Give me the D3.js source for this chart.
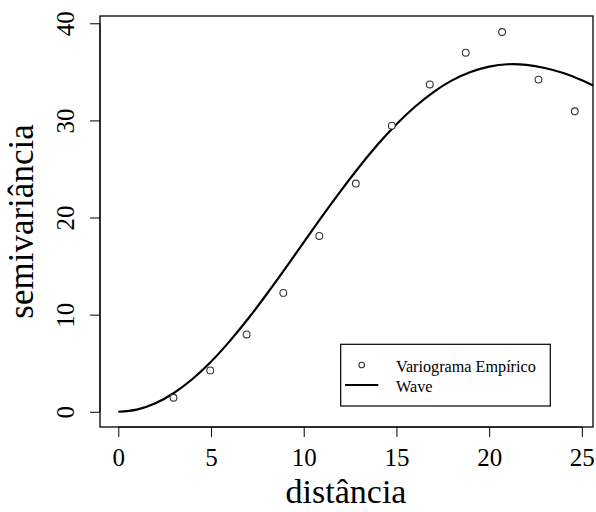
<!DOCTYPE html>
<html><head><meta charset="utf-8">
<script src="https://cdn.jsdelivr.net/npm/d3@7"></script>
<style>body{margin:0;background:#fff}svg{display:block}</style>
</head><body>
<svg id="c" width="596" height="512" font-family="Liberation Serif, Times New Roman, serif"></svg>
<script>
// Empirical variogram points
const empDist = [2.98, 4.96, 6.92, 8.9, 10.84, 12.81, 14.75, 16.8, 18.74, 20.7, 22.66, 24.62];
const empGamma = [1.44, 4.26, 7.96, 12.24, 18.1, 23.5, 29.46, 33.7, 36.97, 39.1, 34.2, 30.94];
// Fitted wave model curve
const waveDist = [0, 1, 2, 3, 4, 5, 6, 7, 8, 9, 10, 11, 12, 13, 14, 15, 16, 17, 18, 19, 20, 21, 22, 23, 24, 25, 26];
const waveGamma = [0, 0.22, 0.87, 1.93, 3.37, 5.15, 7.25, 9.58, 12.1, 14.74, 17.44, 20.14, 22.75, 25.23, 27.54, 29.61, 31.41, 32.92, 34.12, 34.98, 35.53, 35.78, 35.72, 35.4, 34.88, 34.14, 33.24];
const xTicks = [0, 5, 10, 15, 20, 25];
const yTicks = [0, 10, 20, 30, 40];
const legendLabels = ["Variograma Empírico", "Wave"];

const FF = "Liberation Serif, Times New Roman, serif";
const svg = d3.select("#c");
const L = 100, R = 593, T = 16, B = 427;
const x = d3.scaleLinear().domain([-0.985, 25.6]).range([L, R]);
const y = d3.scaleLinear().domain([-1.57, 40.75]).range([B, T]);

svg.append("defs").append("clipPath").attr("id", "clip")
  .append("rect").attr("x", L).attr("y", T).attr("width", R - L).attr("height", B - T);

// axes
const xAxis = svg.append("g").attr("transform", `translate(0,${B})`)
  .call(d3.axisBottom(x).tickValues(xTicks).tickSize(10).tickPadding(10).tickFormat(d3.format("d")));
xAxis.attr("font-family", FF);
xAxis.select(".domain").attr("d", `M${x(0)},0H${x(25)}`).attr("stroke", "#000");
xAxis.selectAll("line").attr("stroke", "#000");
xAxis.selectAll("text").attr("font-size", 25).attr("font-family", FF).attr("fill", "#000")
  .attr("y", 39).attr("dy", null);

const yAxis = svg.append("g").attr("transform", `translate(${L},0)`)
  .call(d3.axisLeft(y).tickValues(yTicks).tickSize(10).tickFormat(d3.format("d")));
yAxis.attr("font-family", FF);
yAxis.select(".domain").attr("d", `M0,${y(0)}V${y(40)}`).attr("stroke", "#000");
yAxis.selectAll("line").attr("stroke", "#000");
yAxis.selectAll(".tick text")
  .attr("font-size", 25).attr("font-family", FF).attr("fill", "#000")
  .attr("x", null).attr("dy", null).attr("y", null)
  .attr("text-anchor", "middle")
  .attr("transform", "translate(-26,0) rotate(-90)");

// box
svg.append("rect").attr("x", L).attr("y", T).attr("width", R - L).attr("height", B - T)
  .attr("fill", "none").attr("stroke", "#000").attr("stroke-width", 1.3);

// curve
const pts = waveDist.map((d, i) => [d, waveGamma[i]]);
svg.append("path").attr("clip-path", "url(#clip)")
  .attr("d", d3.line().x(d => x(d[0])).y(d => y(d[1])).curve(d3.curveNatural)(pts))
  .attr("fill", "none").attr("stroke", "#000").attr("stroke-width", 2.2);

// points
svg.append("g").selectAll("circle").data(empDist).join("circle")
  .attr("cx", d => x(d)).attr("cy", (d, i) => y(empGamma[i])).attr("r", 3.4)
  .attr("fill", "#fff").attr("stroke", "#333").attr("stroke-width", 1.1);

// axis titles
svg.append("text").attr("x", (L + R) / 2 - 0.5).attr("y", 503).attr("text-anchor", "middle")
  .attr("font-family", FF).attr("font-size", 34).attr("fill", "#000").text("distância");
svg.append("text").attr("transform", `translate(33,${(T + B) / 2}) rotate(-90)`)
  .attr("text-anchor", "middle").attr("font-family", FF).attr("font-size", 35).attr("fill", "#000").text("semivariância");

// legend
const lg = svg.append("g");
lg.append("rect").attr("x", 340.7).attr("y", 344.3).attr("width", 209.6).attr("height", 61.7)
  .attr("fill", "#fff").attr("stroke", "#000").attr("stroke-width", 1.2);
lg.append("circle").attr("cx", 361.7).attr("cy", 365).attr("r", 2.8)
  .attr("fill", "#fff").attr("stroke", "#333").attr("stroke-width", 1.1);
lg.append("line").attr("x1", 345).attr("x2", 378.3).attr("y1", 385).attr("y2", 385)
  .attr("stroke", "#000").attr("stroke-width", 2.2);
lg.selectAll("text.l").data(legendLabels).join("text").attr("class", "l")
  .attr("x", 396).attr("y", (d, i) => 371.5 + i * 20)
  .attr("font-family", FF).attr("font-size", 16.2).attr("fill", "#000").text(d => d);
</script>
</body></html>
